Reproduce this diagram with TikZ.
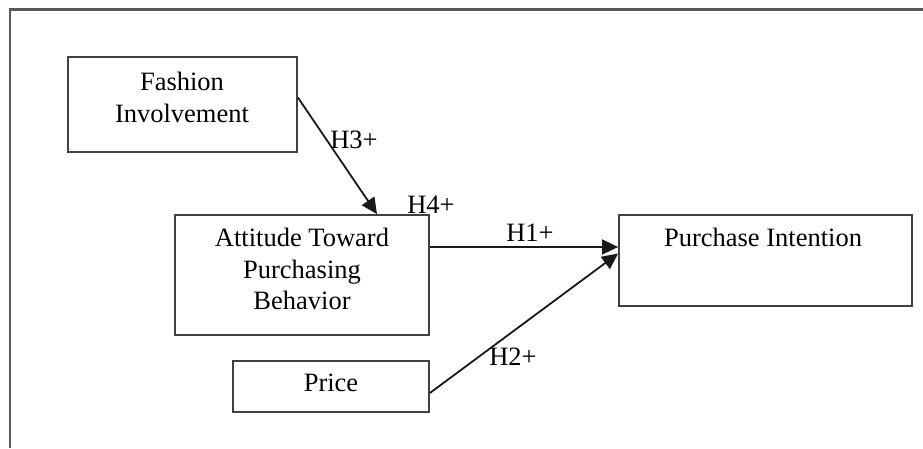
\documentclass[tikz,border=0pt]{standalone}
\usepackage{fontspec}
\setmainfont{Liberation Serif}
\usetikzlibrary{arrows.meta}
\tikzset{
  boxnode/.style={draw=black!75, line width=1.8pt, rectangle, inner sep=0pt},
  txt/.style={align=center, inner sep=0pt, font=\fontsize{26.5}{31.7}\selectfont},
  hyp/.style={inner sep=0pt, font=\fontsize{26.5}{31.7}\selectfont},
  arr/.style={draw=black!90, line width=1.8pt, -{Triangle[length=16pt,width=15pt]}},
}
\begin{document}
\begin{tikzpicture}[x=1pt,y=-1pt]
  \useasboundingbox (0,0) rectangle (923,448);
  % outer frame, open on the right and bottom
  \draw[black!65, line width=2.4pt] (10,448) -- (10,9.5) -- (923,9.5);

  % construct boxes
  \node[boxnode, minimum width=229pt, minimum height=95pt] (fi) at (182.5,104.5) {};
  \node[boxnode, minimum width=254pt, minimum height=120pt] (atb) at (302,275) {};
  \node[boxnode, minimum width=196pt, minimum height=51pt] (pr) at (331,386.5) {};
  \node[boxnode, minimum width=293pt, minimum height=91pt] (pi) at (765.5,260.5) {};

  % box texts
  \node[txt] (fi-t) at (182,97.5) {Fashion\\Involvement};
  \node[txt] (atb-t) at (302,269) {Attitude Toward\\Purchasing\\Behavior};
  \node[txt] (pr-t) at (331,383) {Price};
  \node[txt] (pi-t) at (763,237) {Purchase Intention};

  % hypothesised paths
  \draw[arr] ([yshift=7pt]fi.east) -- ([xshift=75pt]atb.north);
  \draw[arr] ([yshift=28pt]atb.east) coordinate (h1s) -- (h1s -| pi.west);
  \draw[arr] ([yshift=-6.5pt]pr.east) -- ([yshift=7pt]pi.west);

  % hypothesis labels
  \node[hyp] (h3) at (354,140) {H3+};
  \node[hyp] (h4) at (431,205) {H4+};
  \node[hyp] (h1) at (530,233) {H1+};
  \node[hyp] (h2) at (513,357) {H2+};
\end{tikzpicture}
\end{document}
